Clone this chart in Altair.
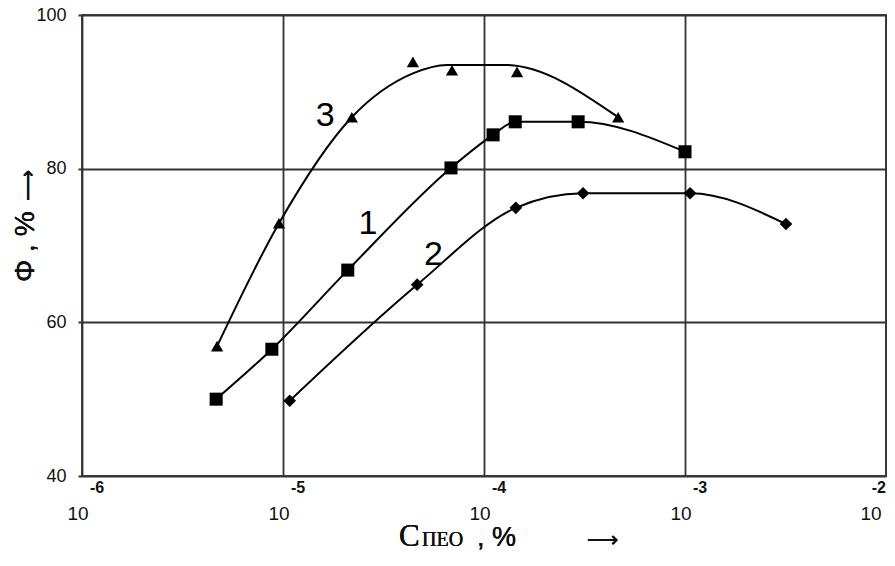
import altair as alt
import pandas as pd

# ---- data ----
# curve 1 (squares)
s1_x = [4.65e-6, 8.8e-6, 2.1e-5, 6.85e-5, 1.11e-4, 1.43e-4, 2.94e-4, 1.0e-3]
s1_y = [50.0, 56.5, 66.8, 80.1, 84.4, 86.1, 86.1, 82.2]
# curve 2 (diamonds)
s2_x = [1.08e-5, 4.65e-5, 1.44e-4, 3.11e-4, 1.06e-3, 3.18e-3]
s2_y = [49.8, 64.9, 74.9, 76.8, 76.8, 72.8]
# curve 3 (triangles): measured points
s3_x = [4.7e-6, 9.55e-6, 2.2e-5, 4.43e-5, 6.93e-5, 1.46e-4, 4.65e-4]
s3_y = [56.9, 72.9, 86.7, 93.9, 92.8, 92.6, 86.7]
# curve 3: smoothed fitting line as drawn
s3_line_x = [4.7e-6, 9.55e-6, 2.2e-5, 4.43e-5, 6.55e-5, 1.27e-4, 4.65e-4]
s3_line_y = [56.9, 72.9, 86.7, 92.4, 93.5, 93.5, 86.7]

# curve number labels
lab_text = ["3", "1", "2"]
lab_x = [1.62e-5, 2.65e-5, 5.6e-5]
lab_y = [86.9, 72.8, 68.8]

# axis ticks
x_exps = [-6, -5, -4, -3, -2]
y_ticks = [40, 60, 80, 100]

pts = []
for name, xs, ys in (("1", s1_x, s1_y), ("2", s2_x, s2_y), ("3", s3_x, s3_y)):
    for xv, yv in zip(xs, ys):
        pts.append({"series": name, "c": xv, "phi": yv})
df_pts = pd.DataFrame(pts)

lns = []
for name, xs, ys in (("1", s1_x, s1_y), ("2", s2_x, s2_y), ("3", s3_line_x, s3_line_y)):
    for xv, yv in zip(xs, ys):
        lns.append({"series": name, "c": xv, "phi": yv})
df_lines = pd.DataFrame(lns)

df_lab = pd.DataFrame({"t": lab_text, "c": lab_x, "phi": lab_y})
df_ticks = pd.DataFrame({"c": [10.0 ** e for e in x_exps],
                         "e": x_exps,
                         "base": ["10"] * len(x_exps),
                         "exp": [str(e) for e in x_exps]})

xscale = alt.Scale(type="log", domain=[1e-6, 1e-2], nice=False)
yscale = alt.Scale(domain=[40, 100], nice=False, zero=False)

X = alt.X("c:Q", scale=xscale,
          axis=alt.Axis(values=[10.0 ** e for e in x_exps], labels=False, ticks=False,
                        domain=False, grid=True, title=None))
Y = alt.Y("phi:Q", scale=yscale,
          axis=alt.Axis(values=y_ticks, domain=False, grid=True, title=None,
                        tickSize=4, tickColor="#333", tickWidth=2,
                        labelFont="Liberation Sans", labelFontSize=18,
                        labelColor="#111", labelPadding=12))

lines = alt.Chart(df_lines).mark_line(
    color="black", strokeWidth=2, interpolate="monotone"
).encode(x=X, y=Y, detail="series:N")

points = alt.Chart(df_pts).mark_point(filled=True, color="black", opacity=1).encode(
    x=X, y=Y,
    shape=alt.Shape("series:N", scale=alt.Scale(domain=["1", "2", "3"],
                    range=["square", "diamond", "triangle-up"]), legend=None),
    size=alt.Size("series:N", scale=alt.Scale(domain=["1", "2", "3"],
                  range=[170, 150, 230]), legend=None),
)

labels = alt.Chart(df_lab).mark_text(
    font="Liberation Sans", fontSize=34, color="black", baseline="middle", align="center"
).encode(x=alt.X("c:Q", scale=xscale), y=alt.Y("phi:Q", scale=yscale), text="t:N")

tick_base = alt.Chart(df_ticks).transform_filter("datum.e < -2").mark_text(
    font="Liberation Sans", fontSize=19, color="#111", baseline="middle", align="center", dx=-4
).encode(x=alt.X("c:Q", scale=xscale), y=alt.value(499), text="base:N")
tick_exp = alt.Chart(df_ticks).transform_filter("datum.e < -2").mark_text(
    font="Liberation Sans", fontSize=16, fontWeight="bold", color="#111",
    baseline="middle", align="center", dx=15
).encode(x=alt.X("c:Q", scale=xscale), y=alt.value(473), text="exp:N")
# last label sits against the right edge
tick_base_last = alt.Chart(df_ticks).transform_filter("datum.e == -2").mark_text(
    font="Liberation Sans", fontSize=19, color="#111", baseline="middle", align="center", dx=-15
).encode(x=alt.X("c:Q", scale=xscale), y=alt.value(499), text="base:N")
tick_exp_last = alt.Chart(df_ticks).transform_filter("datum.e == -2").mark_text(
    font="Liberation Sans", fontSize=16, fontWeight="bold", color="#111",
    baseline="middle", align="right", dx=0
).encode(x=alt.X("c:Q", scale=xscale), y=alt.value(473), text="exp:N")

# axis titles (pixel positions relative to plot area)
ytitle = alt.Chart(df_lab).mark_text(
    text="Φ , %", font="Liberation Sans", fontSize=28, angle=270, align="left",
    baseline="middle", color="#111"
).encode(x=alt.value(-56), y=alt.value(267))
yarrow = alt.Chart(df_lab).mark_text(
    text="⟶", font="DejaVu Sans", fontSize=22, angle=270, align="left",
    baseline="middle", color="#111"
).encode(x=alt.value(-54), y=alt.value(186))

xt_c = alt.Chart(df_lab).mark_text(
    text="C", font="Liberation Serif", fontSize=31, align="left", baseline="alphabetic", color="#111"
).encode(x=alt.value(317), y=alt.value(531))
xt_sub = alt.Chart(df_lab).mark_text(
    text="ПЕО", font="Liberation Serif", fontSize=20, align="left", baseline="alphabetic", color="#111"
).encode(x=alt.value(340), y=alt.value(531))
xt_pct = alt.Chart(df_lab).mark_text(
    text=", %", font="Liberation Sans", fontSize=27, align="left", baseline="alphabetic", color="#111"
).encode(x=alt.value(395), y=alt.value(531))
xt_arrow = alt.Chart(df_lab).mark_text(
    text="⟶", font="DejaVu Sans", fontSize=22, align="left", baseline="alphabetic", color="#111"
).encode(x=alt.value(505), y=alt.value(532))

chart = alt.layer(
    lines, points, labels, tick_base, tick_exp, tick_base_last, tick_exp_last,
    ytitle, yarrow, xt_c, xt_sub, xt_pct, xt_arrow
).properties(
    width=804, height=461,
    autosize=alt.AutoSizeParams(type="none"),
    padding={"left": 74, "top": 7, "right": 1, "bottom": 80},
).configure_view(
    stroke="#444", strokeWidth=2
).configure_axis(
    gridColor="#333", gridWidth=1.8, gridOpacity=1
)

chart.save("out.html", embed_options={"renderer": "svg", "actions": False})
